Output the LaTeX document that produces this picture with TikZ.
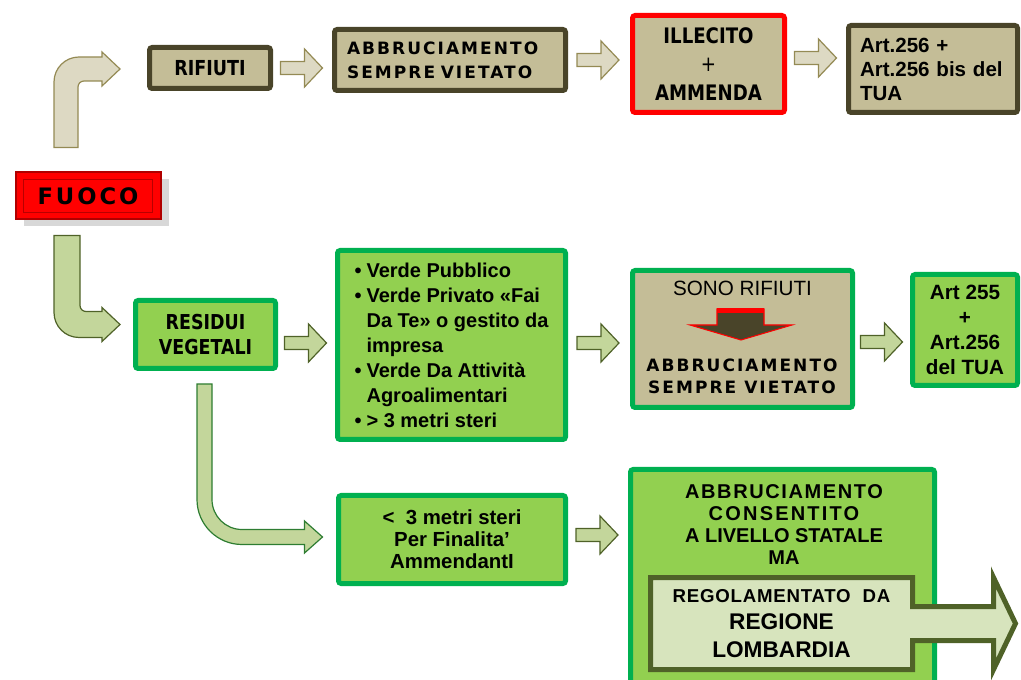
\documentclass[tikz,border=0pt]{standalone}
\usepackage{fontspec}
\setmainfont{Liberation Sans}
\newfontfamily\gillfont{DejaVu Sans}[FakeStretch=0.85]
\newfontfamily\copperfont{DejaVu Sans}[LetterSpace=12]
\newfontfamily\fuocofont{DejaVu Sans}[LetterSpace=13]
\usetikzlibrary{calc,shadows}

\definecolor{tanfill}{HTML}{C4BD97}
\definecolor{olivedark}{HTML}{494429}
\definecolor{beigefill}{HTML}{DDD9C3}
\definecolor{beigeedge}{HTML}{948A54}
\definecolor{greenfill}{HTML}{92D050}
\definecolor{greenedge}{HTML}{00B050}
\definecolor{garrfill}{HTML}{C3D69B}
\definecolor{garredge}{HTML}{4F6228}
\definecolor{garredgeb}{HTML}{2E7D32}
\definecolor{calloutfill}{HTML}{D7E4BD}
\definecolor{fuocoedge}{HTML}{B00000}

\tikzset{
	wh/.style 2 args={minimum width={(#1-5)*0.75pt}, minimum height={(#2-5)*0.75pt}},
	tanbox/.style={draw=olivedark, fill=tanfill, line width=3.75pt, rounded corners=2pt, inner sep=0pt, align=center},
	greenbox/.style={draw=greenedge, fill=greenfill, line width=3.75pt, rounded corners=2pt, inner sep=0pt, align=center},
	beigearr/.style={draw=beigeedge, fill=beigefill, line width=0.9pt},
	greenarr/.style={draw=garredge, fill=garrfill, line width=0.9pt},
	gill/.style 2 args={font=\gillfont\bfseries\fontsize{#1}{#2}\selectfont},
	copper/.style={font=\copperfont\bfseries\fontsize{12.75}{#1}\selectfont},
	arial/.style 2 args={font=\bfseries\fontsize{#1}{#2}\selectfont}
}

% block arrow between two nodes: [y offset]{style}{from}{to}
\newcommand\frecc[4][0]{%
	\path let \p1=(#3.east), \p2=(#4.west) in ({(\x1+\x2)/2},\y1) coordinate (m);
	\draw[#2] ($(m)+(-22,#1-6.5)$) -- ($(m)+(2,#1-6.5)$) -- ($(m)+(2,#1-19)$) -- ($(m)+(20,#1)$)
		-- ($(m)+(2,#1+19)$) -- ($(m)+(2,#1+6.5)$) -- ($(m)+(-22,#1+6.5)$) -- cycle;}
\newcommand\itm{\makebox[9pt][l]{\textbullet}}

\begin{document}
\begin{tikzpicture}[x=0.75pt, y=-0.75pt]
	%%%%% START %%%%%
	\useasboundingbox (0,0) rectangle (1021,680);
	\clip (0,0) rectangle (1021,680);
	
	% top row
	\node[tanbox, wh={126}{46}, gill={15.5}{18}] (rif) at (210,68) {RIFIUTI};
	\node[tanbox, wh={236}{66}, text width=154.5pt, align=left, copper=18] (abbr) at (450,60) {ABBRUCIAMENTO\\SEMPRE VIETATO};
	\node[tanbox, draw=red, wh={157}{102}, gill={16}{21.4}] (ille) at (708.5,64) {ILLECITO\\{\mdseries +}\\AMMENDA};
	\node[tanbox, wh={174}{92}, text width=109.5pt, align=left, arial={15.4}{18}] (art) at (933,69) {Art.256 +\\Art.256 bis del\\TUA};
	
	\frecc{beigearr}{rif}{abbr}
	\frecc{beigearr}{abbr}{ille}
	\frecc[-6]{beigearr}{ille}{art}
	
	% fuoco
	\node[draw=fuocoedge, fill=red, line width=1.5pt, wh={150}{52}, inner sep=0pt,
		drop shadow={shadow xshift=6pt, shadow yshift=-5pt, fill=black!30},
		font=\fuocofont\bfseries\fontsize{17}{20}\selectfont] (fuoco) at (88,196) {FUOCO};
	\draw[red!72!black, line width=0.6pt] ($(fuoco.north west)+(9,8)$) rectangle ($(fuoco.south east)+(-9,-8)$);
	
	\coordinate (s1) at ($(fuoco.north)+(-22,-24)$);
	\coordinate (t1) at ($(rif.west)+(-27,1)$);
	\coordinate (k1) at (s1 |- t1);
	\draw[beigearr] ($(s1)+(-12,0)$) -- ($(k1)+(-12,13)$) arc (180:270:25) -- ($(t1)+(-18,-12)$)
		-- ($(t1)+(-18,-17)$) -- (t1) -- ($(t1)+(-18,17)$) -- ($(t1)+(-18,12)$)
		-- ($(k1)+(18,12)$) arc (270:180:6) -- ($(s1)+(12,0)$) -- cycle;
	
	% residui vegetali
	\node[greenbox, wh={145}{73}, gill={15.4}{19}] (resid) at (205.5,334.5) {RESIDUI\\VEGETALI};
	
	\coordinate (s2) at ($(fuoco.south)+(-21,15)$);
	\coordinate (t2) at ($(resid.west)+(-13,-10)$);
	\coordinate (k2) at (s2 |- t2);
	\draw[greenarr] ($(s2)+(-13,0)$) -- ($(k2)+(-13,-12)$) arc (180:90:25) -- ($(t2)+(-18,13)$)
		-- ($(t2)+(-18,17)$) -- (t2) -- ($(t2)+(-18,-17)$) -- ($(t2)+(-18,-13)$)
		-- ($(k2)+(19,-13)$) arc (90:180:6) -- ($(s2)+(13,0)$) -- cycle;
	
	\node[greenbox, wh={233}{194}, align=left, arial={15}{18.75}] (elenco) at (451.5,345)
		{\itm Verde Pubblico\\\itm Verde Privato «Fai\\\hspace*{9pt}Da Te» o gestito da\\\hspace*{9pt}impresa\\
		 \itm Verde Da Attività\\\hspace*{9pt}Agroalimentari\\\itm > 3 metri steri};
	
	\node[greenbox, fill=tanfill, wh={225}{142}] (sono) at (742.5,339) {};
	\node[font=\fontsize{15.5}{17}\selectfont] (sono-t) at (742.5,288) {SONO RIFIUTI};
	\draw[fill=olivedark, draw=red, line width=0.8pt] (717,309) -- (764,309) -- (764,325) -- (792,325)
		-- (741,340) -- (690,325) -- (717,325) -- cycle;
	\fill[red] (717,308) rectangle (764,313);
	\node[copper=16.3, align=center] (sono-a) at (742,376) {ABBRUCIAMENTO\\SEMPRE VIETATO};
	
	\node[greenbox, wh={110}{116}, arial={15.5}{18.75}] (artb) at (965,330) {Art 255\\+\\Art.256\\del TUA};
	
	\frecc[8.5]{greenarr}{resid}{elenco}
	\frecc[-2]{greenarr}{elenco}{sono}
	\frecc[3]{greenarr}{sono}{artb}
	
	% sotto 3 metri steri
	\node[greenbox, wh={232}{93}, arial={15.3}{16.5}] (meno) at (452,539.5) {<\ \ 3 metri steri\\Per Finalita’\\AmmendantI};
	
	\coordinate (s3) at ($(resid.south)+(-1,13)$);
	\coordinate (t3) at ($(meno.west)+(-13.5,-2.5)$);
	\coordinate (k3) at (s3 |- t3);
	\draw[greenarr, draw=garredgeb] ($(s3)+(-7.5,0)$) -- ($(k3)+(-7.5,-37.5)$) arc (180:90:45) -- ($(t3)+(-18,7.5)$)
		-- ($(t3)+(-18,16)$) -- (t3) -- ($(t3)+(-18,-16)$) -- ($(t3)+(-18,-7.5)$)
		-- ($(k3)+(37.5,-7.5)$) arc (90:180:30) -- ($(s3)+(7.5,0)$) -- cycle;
	
	\node[greenbox, wh={309}{246}] (cons) at (782.5,590) {};
	\node[align=center, arial={15}{16.5}] (cons-t) at (784,525)
		{{\addfontfeature{LetterSpace=8}ABBRUCIAMENTO}\\{\addfontfeature{LetterSpace=11}CONSENTITO}\\
		 A LIVELLO STATALE\\MA};
	
	\frecc[-4.5]{greenarr}{meno}{cons}
	
	% regolamentato da regione lombardia
	\coordinate (rg) at (781.5,623.5);
	\draw[draw=garredge, fill=calloutfill, line width=3.75pt] ($(rg)+(-131,-46)$) -- ($(rg)+(131,-46)$)
		-- ($(rg)+(131,-17)$) -- ($(rg)+(212,-17)$) -- ($(rg)+(212,-46)$) -- ($(rg)+(234,0)$)
		-- ($(rg)+(212,46)$) -- ($(rg)+(212,17)$) -- ($(rg)+(131,17)$) -- ($(rg)+(131,46)$)
		-- ($(rg)+(-131,46)$) -- cycle;
	\node[align=center, arial={17}{20.5}] (regio) at (rg)
		{{\fontsize{14}{20.5}\selectfont\addfontfeature{LetterSpace=4}REGOLAMENTATO\ \ DA}\\REGIONE\\LOMBARDIA};
	
	%%%%% END %%%%%
\end{tikzpicture}
\end{document}
